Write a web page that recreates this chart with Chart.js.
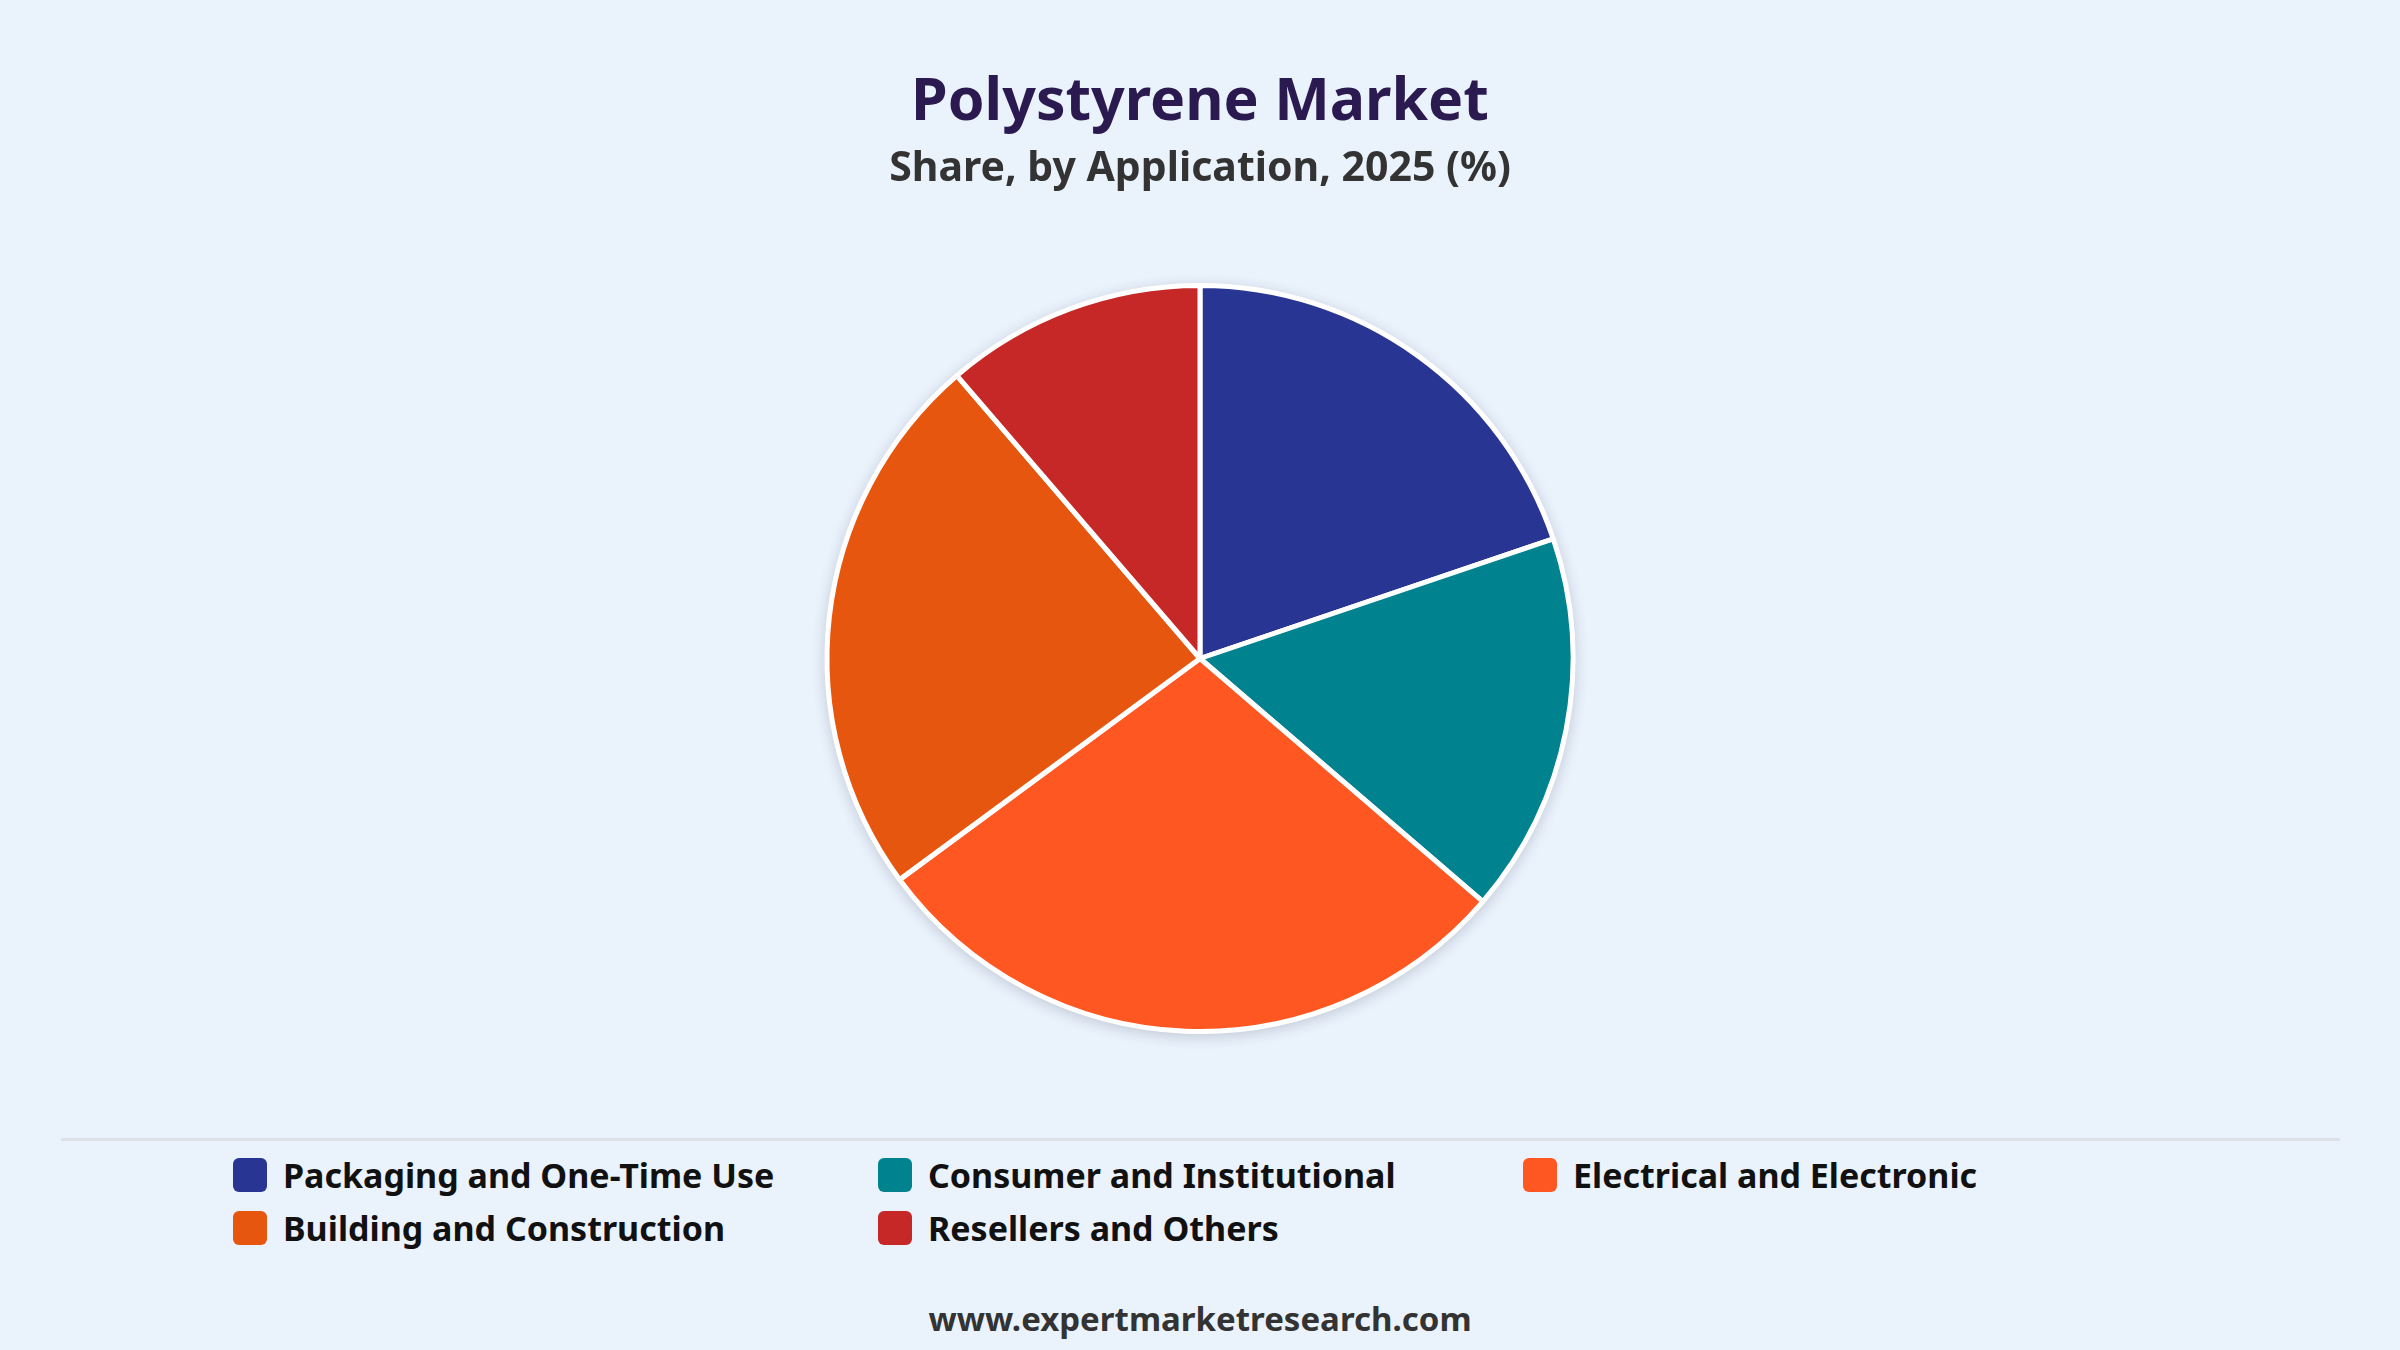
<!DOCTYPE html>
<html>
<head>
<meta charset="utf-8">
<script src="https://cdn.jsdelivr.net/npm/chart.js@4.4.1/dist/chart.umd.min.js"></script>
<style>
  html, body { margin: 0; padding: 0; }
  body {
    width: 2400px;
    height: 1350px;
    background: #eaf2fc;
    font-family: 'Noto Sans', 'Open Sans', sans-serif;
    position: relative;
    overflow: hidden;
  }
  #chart-wrap { position: absolute; left: 0; top: 0; width: 2400px; height: 1130px; }
  #rule { position: absolute; left: 61px; top: 1138px; width: 2279px; height: 3px; background: #dde1e6; }
  #legend {
    position: absolute; left: 233px; top: 1158px;
    display: grid; grid-template-columns: 645px 645px 645px; row-gap: 19px;
  }
  .item { display: flex; align-items: center; height: 34px; font-size: 34px; font-weight: 700; color: #111; }
  .box { width: 34px; height: 34px; border-radius: 6px; margin-right: 16px; flex: none; }
  #footer {
    position: absolute; left: 0; width: 2400px; top: 1296px; text-align: center;
    font-size: 33px; font-weight: 700; color: #333;
  }
</style>
</head>
<body>
<div id="chart-wrap"><canvas id="shareChart"></canvas></div>
<div id="rule"></div>
<div id="legend"></div>
<div id="footer">www.expertmarketresearch.com</div>
<script>
const categories = [
  'Packaging and One-Time Use',
  'Consumer and Institutional',
  'Electrical and Electronic',
  'Building and Construction',
  'Resellers and Others'
];
const shares = [19.8, 16.5, 28.6, 23.8, 11.3];
const sliceColors = ['#283593', '#00838f', '#ff5722', '#e6560f', '#c62828'];

// soft shadow behind the pie
const pieShadow = {
  id: 'pieShadow',
  beforeDatasetsDraw(chart) {
    const arc = chart.getDatasetMeta(0).data[0];
    if (!arc) return;
    const ctx = chart.ctx;
    ctx.save();
    ctx.shadowColor = 'rgba(40, 50, 70, 0.22)';
    ctx.shadowBlur = 14;
    ctx.shadowOffsetY = 3;
    ctx.fillStyle = '#ffffff';
    ctx.beginPath();
    ctx.arc(arc.x, arc.y, arc.outerRadius + 2, 0, Math.PI * 2);
    ctx.fill();
    ctx.restore();
  }
};

const chart = new Chart(document.getElementById('shareChart'), {
  type: 'pie',
  data: {
    labels: categories,
    datasets: [{
      data: shares,
      backgroundColor: sliceColors,
      borderColor: '#ffffff',
      borderWidth: 5
    }]
  },
  options: {
    responsive: true,
    maintainAspectRatio: false,
    animation: false,
    layout: { padding: { bottom: 96 } },
    plugins: {
      legend: { display: false },
      tooltip: { enabled: false },
      title: {
        display: true,
        text: 'Polystyrene Market',
        color: '#2b1a4f',
        font: { family: "'Noto Sans', sans-serif", size: 59, weight: 'bold', lineHeight: 1.2 },
        padding: { top: 68, bottom: 0 }
      },
      subtitle: {
        display: true,
        text: 'Share, by Application, 2025 (%)',
        color: '#333333',
        font: { family: "'Noto Sans', sans-serif", size: 41, weight: 'bold', lineHeight: 1.2 },
        padding: { top: 6, bottom: 89 }
      }
    }
  },
  plugins: [pieShadow]
});

// html legend in a 3-column grid
const legendEl = document.getElementById('legend');
categories.forEach((name, i) => {
  const div = document.createElement('div');
  div.className = 'item';
  div.innerHTML = `<span class="box" style="background:${sliceColors[i]}"></span><span>${name}</span>`;
  legendEl.appendChild(div);
});
</script>
</body>
</html>
